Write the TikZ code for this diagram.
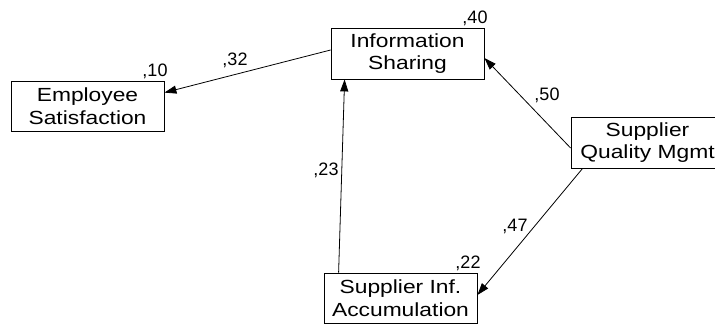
\documentclass[tikz,border=0pt]{standalone}
\usepackage{fontspec}
\setmainfont{Liberation Sans}
\newfontfamily\boxfont[FakeStretch=1.2]{Liberation Sans}
\usetikzlibrary{arrows.meta}
\begin{document}
\begin{tikzpicture}[x=1pt,y=-1pt,
  boxnode/.style={draw,line width=0.8pt,minimum width=153pt,minimum height=50pt,inner sep=0pt,align=center,font=\boxfont\fontsize{19}{22.7}\selectfont},
  coef/.style={anchor=base,inner sep=0pt,font=\fontsize{18}{20}\selectfont},
  path/.style={line width=0.8pt,-{Triangle[length=12pt,width=8pt]}}]
\useasboundingbox (0,0) rectangle (715,325);
\node[boxnode] (es) at (87.5,106) {Employee\\Satisfaction};
\node[boxnode,minimum height=51pt] (is) at (407.5,53.5) {Information\\Sharing};
\node[boxnode,minimum height=51pt] (sqm) at (647.5,142.5) {Supplier\\Quality Mgmt};
\node[boxnode] (sia) at (400.5,298) {Supplier Inf.\\Accumulation};
\draw[path] ([yshift=3.5pt]is.west) -- ([yshift=-12pt]es.north east);
\draw[path] ([xshift=15pt]sia.north west) -- ([xshift=14pt]is.south west);
\draw[path] ([yshift=-5.5pt]sqm.west) -- ([yshift=-4.5pt]is.east);
\draw[path] ([xshift=12pt]sqm.south west) -- ([yshift=3pt]sia.east);
\node[coef] (c10) at (155,76) {,10};
\node[coef] (c32) at (235,65) {,32};
\node[coef] (c40) at (475,23) {,40};
\node[coef] (c50) at (547,100) {,50};
\node[coef] (c23) at (326,175) {,23};
\node[coef] (c47) at (515,231) {,47};
\node[coef] (c22) at (468,268) {,22};
\end{tikzpicture}
\end{document}
